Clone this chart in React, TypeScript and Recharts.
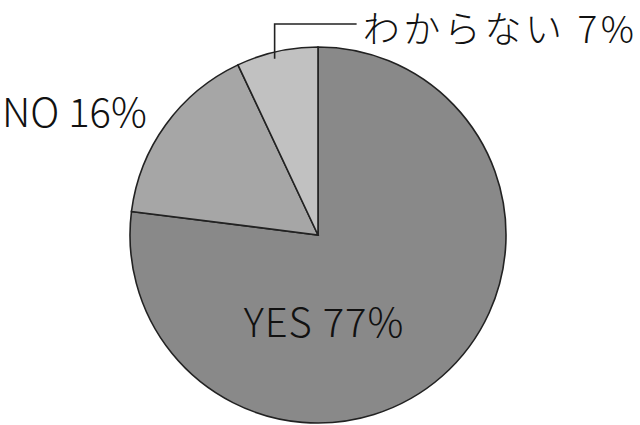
import { Cell, Pie, PieChart } from "recharts";

// Survey answers, share of respondents (%), drawn clockwise from 12 o'clock.
const ANSWERS = ["YES", "NO", "わからない"];
const SHARES = [77, 16, 7];
const FILLS = ["#898989", "#a6a6a6", "#c1c1c1"];

const FONT = '"Noto Sans CJK JP", "Noto Sans", sans-serif';
const RAD = Math.PI / 180;

const rows = ANSWERS.map((name, i) => ({ name, value: SHARES[i] }));

// Label placement is per-slice: YES sits inside, NO to the left,
// わからない above with an elbow leader line.
function renderLabel(props: any) {
  const { cx, cy, outerRadius, midAngle, index, name, value } = props;
  const text = `${name} ${value}%`;
  const common = { fontFamily: FONT, fontSize: 40, fontWeight: 300, fill: "#111" };
  if (index === 0) {
    return (
      <text key="yes" x={cx + 6} y={cy + 102} textAnchor="middle" letterSpacing={1} {...common}>
        {text}
      </text>
    );
  }
  if (index === 1) {
    return (
      <text key="no" x={cx - outerRadius - 128} y={cy - 108} textAnchor="start" {...common}>
        {text}
      </text>
    );
  }
  const r = outerRadius * 0.96;
  const sx = cx + r * Math.cos(-midAngle * RAD) - 4;
  const sy = cy + r * Math.sin(-midAngle * RAD);
  const topY = cy - outerRadius - 23;
  return (
    <g key="dk">
      <polyline
        points={`${sx},${sy} ${sx},${topY} ${sx + 82},${topY}`}
        fill="none"
        stroke="#222"
        strokeWidth={1.6}
      />
      <text x={sx + 88} y={topY + 19} textAnchor="start" letterSpacing={3.6} {...common} fontSize={37}>
        {text}
      </text>
    </g>
  );
}

export default function App() {
  return (
    <div style={{ position: "absolute", left: 0, top: 0, width: 640, height: 425, background: "#fff" }}>
      <PieChart width={640} height={425} margin={{ top: 0, right: 0, bottom: 0, left: 0 }}>
        <Pie
          data={rows}
          dataKey="value"
          nameKey="name"
          cx={318}
          cy={235}
          outerRadius={188}
          startAngle={90}
          endAngle={-270}
          stroke="#222"
          strokeWidth={1.6}
          label={renderLabel}
          labelLine={false}
          isAnimationActive={false}
        >
          {rows.map((r, i) => (
            <Cell key={r.name} fill={FILLS[i]} />
          ))}
        </Pie>
      </PieChart>
    </div>
  );
}
